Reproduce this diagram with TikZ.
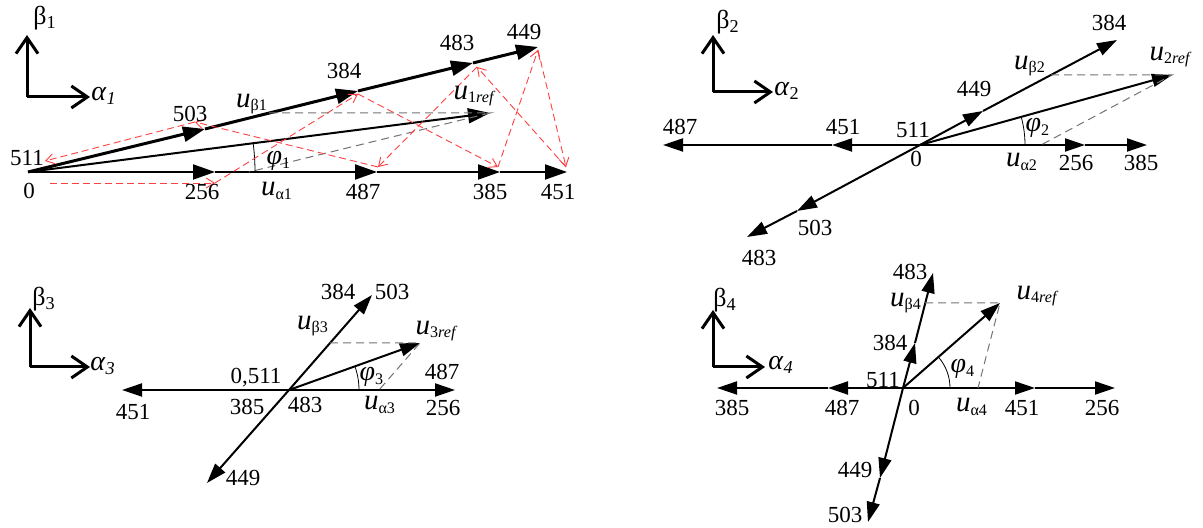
\documentclass[tikz,border=0pt]{standalone}
\usepackage{fontspec}
\setmainfont{Liberation Serif}
\usepackage{tikz}
\usetikzlibrary{arrows.meta}

\newcommand{\uvec}[1]{{\fontsize{14.5}{16}\selectfont\textit{u}}\textsubscript{#1}}
\newcommand{\phiang}[1]{{\fontsize{14}{16}\selectfont\textit{φ}}\textsubscript{#1}}
\newcommand{\alab}[1]{{\fontsize{14}{16}\selectfont\textit{α}}\textsubscript{#1}}

\begin{document}
\begin{tikzpicture}[x=0.5pt, y=0.5pt,
    vec/.style     ={line width=1pt, -{Triangle[length=10pt,width=6.5pt]}},
    vecw/.style    ={line width=1pt, -{Triangle[length=11pt,width=7.5pt]}},
    vecb/.style    ={line width=1.5pt, -{Triangle[length=11pt,width=7.5pt]}},
    frame/.style   ={line width=1.5pt, -{Straight Barb[length=8pt,width=11pt]}},
    proj/.style    ={black!55, line width=0.5pt, dash pattern=on 4pt off 2.5pt},
    seqline/.style ={red!75, line width=0.45pt, dash pattern=on 3.5pt off 2pt,
                     -{Straight Barb[length=4pt,width=5pt]}},
    angarc/.style  ={line width=0.4pt},
    lab/.style     ={font=\fontsize{11.5}{13}\selectfont, inner sep=0pt},
    blab/.style    ={font=\fontsize{13}{15}\selectfont, inner sep=0pt}
  ]
    \useasboundingbox (0,0) rectangle (1203,528);

    % --- Sector 1 (top left) ---
    \coordinate (f1) at (27,431);
    \coordinate (f1b) at (27,493);
    \coordinate (f1a) at (90,431);
    \draw[frame] (f1) -- (f1b);
    \draw[frame] (f1) -- (f1a);
    \node[blab] (b1) at (45,510) {β\textsubscript{1}};
    \node[blab] (a1) at (104,432) {\alab{\textit{1}}};

    \coordinate (o1) at (28,356);
    % alpha axis
    \coordinate (h256) at (215,356);
    \coordinate (h487) at (377,356);
    \coordinate (h385) at (500,356);
    \coordinate (h451) at (567,356);
    \draw[vecw] (o1) -- (h256);
    \draw[vecw] (h256) -- (h487);
    \draw[vecw] (h487) -- (h385);
    \draw[vecw] (h385) -- (h451);
    % beta chain
    \coordinate (c503) at (205,399);
    \coordinate (c384) at (358,437);
    \coordinate (c483) at (473,465);
    \coordinate (c449) at (538,481);
    \draw[vecb] (o1) -- (c503);
    \draw[vecb] (c503) -- (c384);
    \draw[vecb] (c384) -- (c483);
    \draw[vecb] (c483) -- (c449);
    % reference vector and projections
    \coordinate (r1) at (490,415);
    \coordinate (pb1) at (269,415);
    \coordinate (pa1) at (249,356);
    \draw[vecw] (o1) -- (r1);
    \draw[proj] (pb1) -- (r1) -- (pa1);
    \draw[angarc] ([shift={(227,0)}]o1) arc[start angle=0, end angle=7.3, radius=227];

    % switching sequence
    \coordinate (s0) at (50,345);
    \coordinate (s256) at (215,345);
    \coordinate (s384) at (358,434);
    \coordinate (s385) at (498,361);
    \coordinate (s449) at (538,478);
    \coordinate (s451) at (566,361);
    \coordinate (s483) at (477,461);
    \coordinate (s487) at (378,361);
    \coordinate (s503) at (195,406);
    \coordinate (s511) at (45,367);
    \foreach \a/\b in {s0/s256, s256/s384, s384/s385, s385/s449, s449/s451,
                       s451/s483, s483/s487, s487/s503, s503/s511}
      \draw[seqline] (\a) -- (\b);

    \node[lab] (n0a) at (29,337) {0};
    \node[lab] (n511a) at (27,370) {511};
    \node[lab] (n256a) at (202,336) {256};
    \node[lab] (ua1) at (277,337) {\uvec{α1}};
    \node[lab] (n487a) at (363,336) {487};
    \node[lab] (n385a) at (490,336) {385};
    \node[lab] (n451a) at (558,336) {451};
    \node[lab] (n503a) at (190,414) {503};
    \node[lab] (ub1) at (252,424) {\uvec{β1}};
    \node[lab] (n384a) at (344,457) {384};
    \node[lab] (n483a) at (457,485) {483};
    \node[lab] (n449a) at (524,496) {449};
    \node[lab] (ur1) at (475,432) {\uvec{1\textit{ref}}};
    \node[lab] (phi1) at (279,367) {\phiang{1}};

    % --- Sector 2 (top right) ---
    \coordinate (f2) at (713,436);
    \coordinate (f2b) at (713,493);
    \coordinate (f2a) at (773,436);
    \draw[frame] (f2) -- (f2b);
    \draw[frame] (f2) -- (f2a);
    \node[blab] (b2) at (728,506) {β\textsubscript{2}};
    \node[blab] (a2) at (787,437) {\alab{2}};

    \coordinate (o2) at (920,383);
    \coordinate (g451) at (832,383);
    \coordinate (g487) at (663,383);
    \coordinate (g256) at (1085,383);
    \coordinate (g385) at (1147,383);
    \coordinate (g449) at (983,417);
    \coordinate (g384) at (1117,488);
    \coordinate (g503) at (797,317);
    \coordinate (g483) at (747,291);
    \draw[vec] (o2) -- (g451);
    \draw[vec] (g451) -- (g487);
    \draw[vec] (o2) -- (g256);
    \draw[vec] (g256) -- (g385);
    \draw[vec] (o2) -- (g449);
    \draw[vec] (g449) -- (g384);
    \draw[vec] (o2) -- (g503);
    \draw[vec] (g503) -- (g483);
    \coordinate (r2) at (1172,453);
    \coordinate (pb2) at (1051,453);
    \coordinate (pa2) at (1041,383);
    \draw[vec] (o2) -- (r2);
    \draw[proj] (pb2) -- (r2) -- (pa2);
    \draw[angarc] ([shift={(105,0)}]o2) arc[start angle=0, end angle=15.5, radius=105];

    \node[lab] (n487b) at (680,401) {487};
    \node[lab] (n451b) at (843,401) {451};
    \node[lab] (n511b) at (913,398) {511};
    \node[lab] (n0b) at (916,369) {0};
    \node[lab] (ua2) at (1022,366) {\uvec{α2}};
    \node[lab] (n256b) at (1076,365) {256};
    \node[lab] (n385b) at (1141,365) {385};
    \node[lab] (n449b) at (974,439) {449};
    \node[lab] (ub2) at (1030,462) {\uvec{β2}};
    \node[lab] (n384b) at (1109,505) {384};
    \node[lab] (n503b) at (815,300) {503};
    \node[lab] (n483b) at (759,270) {483};
    \node[lab] (ur2) at (1171,471) {\uvec{2\textit{ref}}};
    \node[lab] (phi2) at (1038,400) {\phiang{2}};

    % --- Sector 3 (bottom left) ---
    \coordinate (f3) at (30,161);
    \coordinate (f3b) at (30,220);
    \coordinate (f3a) at (90,161);
    \draw[frame] (f3) -- (f3b);
    \draw[frame] (f3) -- (f3a);
    \node[blab] (b3) at (44,229) {β\textsubscript{3}};
    \node[blab] (a3) at (103,162) {\alab{\textit{3}}};

    \coordinate (o3) at (289,138);
    \coordinate (k451) at (122,138);
    \coordinate (k256) at (455,138);
    \coordinate (k503) at (372,233);
    \coordinate (k449) at (207,45);
    \draw[vec] (o3) -- (k451);
    \draw[vec] (o3) -- (k256);
    \draw[vec] (o3) -- (k503);
    \draw[vec] (o3) -- (k449);
    \coordinate (r3) at (420,185);
    \coordinate (pb3) at (330,185);
    \coordinate (pa3) at (379,138);
    \draw[vec] (o3) -- (r3);
    \draw[proj] (pb3) -- (r3) -- (pa3);
    \draw[angarc] ([shift={(70,0)}]o3) arc[start angle=0, end angle=19.7, radius=70];

    \node[lab] (n451c) at (133,116) {451};
    \node[lab] (n0c) at (256,150) {0,511};
    \node[lab] (n385c) at (247,121) {385};
    \node[lab] (n483c) at (305,123) {483};
    \node[lab] (n487c) at (442,156) {487};
    \node[lab] (n256c) at (443,120) {256};
    \node[lab] (ua3) at (380,123) {\uvec{α3}};
    \node[lab] (n384c) at (338,236) {384};
    \node[lab] (n503c) at (392,236) {503};
    \node[lab] (n449c) at (243,50) {449};
    \node[lab] (ub3) at (313,202) {\uvec{β3}};
    \node[lab] (ur3) at (437,197) {\uvec{3\textit{ref}}};
    \node[lab] (phi3) at (372,151) {\phiang{3}};

    % --- Sector 4 (bottom right) ---
    \coordinate (f4) at (713,161);
    \coordinate (f4b) at (713,218);
    \coordinate (f4a) at (765,161);
    \draw[frame] (f4) -- (f4b);
    \draw[frame] (f4) -- (f4a);
    \node[blab] (b4) at (725,228) {β\textsubscript{4}};
    \node[blab] (a4) at (781,163) {\alab{\textit{4}}};

    \coordinate (o4) at (903,140);
    \coordinate (m487) at (828,140);
    \coordinate (m385) at (717,140);
    \coordinate (m451) at (1035,140);
    \coordinate (m256) at (1115,140);
    \coordinate (m384) at (915,185);
    \coordinate (m483) at (933,255);
    \coordinate (m449) at (880,50);
    \coordinate (m503) at (868,6);
    \draw[vec] (o4) -- (m487);
    \draw[vec] (m487) -- (m385);
    \draw[vec] (o4) -- (m451);
    \draw[vec] (m451) -- (m256);
    \draw[vec] (o4) -- (m384);
    \draw[vec] (m384) -- (m483);
    \draw[vec] (o4) -- (m449);
    \draw[vec] (m449) -- (m503);
    \coordinate (r4) at (1000,225);
    \coordinate (pb4) at (925,225);
    \coordinate (pa4) at (978,140);
    \draw[vec] (o4) -- (r4);
    \draw[proj] (pb4) -- (r4) -- (pa4);
    \draw[angarc] ([shift={(47,0)}]o4) arc[start angle=0, end angle=41.2, radius=47];

    \node[lab] (n385d) at (732,120) {385};
    \node[lab] (n487d) at (842,120) {487};
    \node[lab] (n511d) at (883,148) {511};
    \node[lab] (n0d) at (914,120) {0};
    \node[lab] (ua4) at (972,121) {\uvec{α4}};
    \node[lab] (n451d) at (1022,120) {451};
    \node[lab] (n256d) at (1102,120) {256};
    \node[lab] (n483d) at (910,256) {483};
    \node[lab] (n384d) at (890,185) {384};
    \node[lab] (n449d) at (855,58) {449};
    \node[lab] (n503d) at (845,13) {503};
    \node[lab] (ub4) at (906,225) {\uvec{β4}};
    \node[lab] (ur4) at (1038,232) {\uvec{4\textit{ref}}};
    \node[lab] (phi4) at (963,159) {\phiang{4}};
\end{tikzpicture}
\end{document}
